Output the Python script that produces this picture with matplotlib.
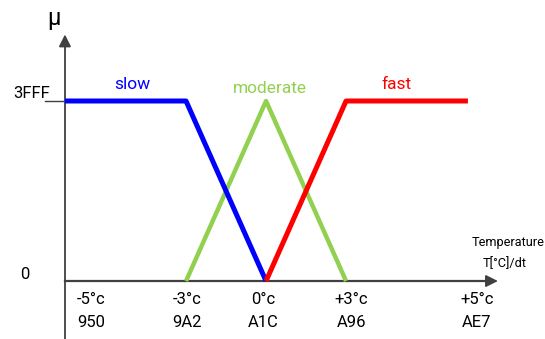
import matplotlib
matplotlib.use("Agg")
from matplotlib import pyplot as plt

# membership functions (x in degrees, y in membership)
slow_x = [-7.54, -3, 0]
slow_y = [1, 1, 0]
moderate_x = [-3, 0, 3]
moderate_y = [0, 1, 0]
fast_x = [0, 3, 7.57]
fast_y = [0, 1, 1]

tick_pos = [-6.55, -2.95, -0.1, 3.2, 7.9]
tick_temp = ["-5°c", "-3°c", "0°c", "+3°c", "+5°c"]
tick_hex = ["950", "9A2", "A1C", "A96", "AE7"]

fig = plt.figure(figsize=(5.45, 3.39), dpi=100)
ax = fig.add_axes([0, 0, 1, 1])
ax.set_xlim(-9.975, 10.46)
ax.set_ylim(-0.322, 1.561)
ax.axis("off")

fnt = ["Roboto", "DejaVu Sans"]
axis_col = "#404040"

# axes with arrows
x0 = -7.54
ax.plot([x0, x0], [-0.33, 1.30], color=axis_col, lw=1.3, zorder=1)
ax.annotate("", xy=(x0, 1.385), xytext=(x0, 1.28),
            arrowprops=dict(arrowstyle="-|>", color=axis_col, lw=1.3, mutation_scale=18))
ax.plot([x0, 8.4], [0, 0], color=axis_col, lw=1.6, zorder=1)
ax.annotate("", xy=(8.8, 0), xytext=(8.3, 0),
            arrowprops=dict(arrowstyle="-|>", color=axis_col, lw=1.3, mutation_scale=18))
ax.plot([-8.3, x0], [1, 1], color=axis_col, lw=1.0)

ax.plot(slow_x, slow_y, color="#0000FF", lw=3.6, solid_capstyle="butt", zorder=3)
ax.plot(moderate_x, moderate_y, color="#92D050", lw=3.2, solid_capstyle="butt", zorder=2)
ax.plot(fast_x, fast_y, color="#FF0000", lw=3.6, solid_capstyle="butt", zorder=3)

ax.text(-5.0, 1.09, "slow", color="#0000FF", fontsize=12.5, family=fnt,
        ha="center", va="center")
ax.text(0.15, 1.07, "moderate", color="#92D050", fontsize=12.5, family=fnt,
        ha="center", va="center")
ax.text(4.9, 1.09, "fast", color="#FF0000", fontsize=12.5, family=fnt,
        ha="center", va="center")

ax.text(-8.1, 1.0, "3FFF", fontsize=12, family=fnt, ha="right", va="bottom")
ax.text(-9.05, 0.035, "0", fontsize=12, family=fnt, ha="center", va="center")
ax.text(-7.95, 1.46, "μ", fontsize=17, family=fnt, ha="center", va="center")

for p, t, h in zip(tick_pos, tick_temp, tick_hex):
    ax.text(p, -0.105, t, fontsize=12, family=fnt, ha="center", va="center")
    ax.text(p, -0.23, h, fontsize=12, family=fnt, ha="center", va="center")

ax.text(10.45, 0.215, "Temperature", fontsize=9.2, family=fnt, ha="right", va="center")
ax.text(8.95, 0.095, "T[°C]/dt", fontsize=9.2, family=fnt, ha="center", va="center")

fig.savefig("out.png", dpi=100)
